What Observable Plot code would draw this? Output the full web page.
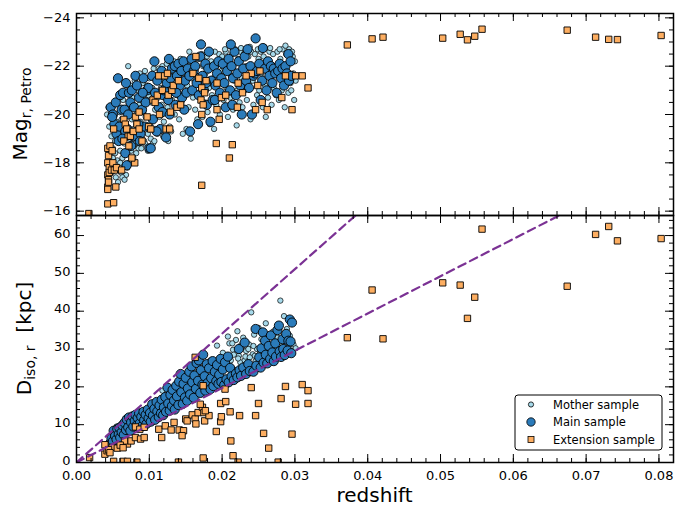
<!DOCTYPE html>
<html>
<head>
<meta charset="utf-8">
<script src="https://cdn.jsdelivr.net/npm/d3@7"></script>
<script src="https://cdn.jsdelivr.net/npm/@observablehq/plot@0.6"></script>
<style>
  html, body { margin: 0; padding: 0; background: #fff; }
  #chart { position: relative; width: 676px; height: 508px; }
  #chart svg { display: block; overflow: visible; }
</style>
</head>
<body>
<div id="chart"></div>
<script>
// ---- tick values ----
const xMajor = [0, 0.01, 0.02, 0.03, 0.04, 0.05, 0.06, 0.07, 0.08];
const xMinor = d3.range(0, 0.0821, 0.002);
const magMajor = [-24, -22, -20, -18, -16];
const magMinor = d3.range(-24, -15.75, 0.5);
const sizeMajor = [0, 10, 20, 30, 40, 50, 60];
const sizeMinor = d3.range(0, 65, 2);

// ---- guide lines of constant angular size: D = slope * z ----
const guideSlopes = [1704, 985];

// ---- absolute magnitude vs redshift: [z, Mag_r] ----
const motherMag = [
  [0.0042,-20.0],[0.0044,-20.3],[0.0045,-19.5],[0.0046,-18.3],[0.0047,-17.9],[0.0048,-19.1],[0.0050,-18.6],[0.0051,-20.4],
  [0.0052,-17.8],[0.0053,-18.9],[0.0054,-17.4],[0.0055,-19.7],[0.0056,-18.1],[0.0057,-17.2],[0.0058,-19.3],[0.0059,-20.1],
  [0.0060,-18.5],[0.0061,-17.6],[0.0062,-19.8],[0.0063,-18.2],[0.0064,-20.6],[0.0065,-17.9],[0.0066,-18.8],[0.0067,-19.6],
  [0.0068,-17.5],[0.0069,-18.4],[0.0070,-20.3],[0.0071,-22.0],[0.0072,-18.0],[0.0073,-19.0],[0.0074,-21.2],[0.0075,-18.5],
  [0.0076,-19.8],[0.0077,-20.7],[0.0078,-18.2],[0.0079,-19.4],[0.0080,-21.4],[0.0081,-18.8],[0.0082,-20.0],[0.0083,-19.3],
  [0.0084,-21.0],[0.0085,-18.6],[0.0086,-20.4],[0.0087,-21.7],[0.0088,-19.7],[0.0089,-20.9],[0.0090,-19.0],[0.0091,-21.3],
  [0.0092,-20.1],[0.0093,-18.9],[0.0094,-21.8],[0.0095,-19.9],[0.0096,-20.6],[0.0097,-21.2],[0.0098,-19.2],[0.0099,-20.8],
  [0.0100,-21.5],[0.0101,-19.6],[0.0103,-20.5],[0.0104,-21.1],[0.0105,-18.8],[0.0106,-21.9],[0.0108,-20.2],[0.0109,-19.4],
  [0.0110,-21.6],[0.0112,-20.7],[0.0113,-21.9],[0.0114,-19.9],[0.0116,-21.1],[0.0117,-20.4],[0.0118,-22.0],[0.0120,-19.7],
  [0.0121,-21.4],[0.0123,-20.9],[0.0124,-22.1],[0.0125,-20.3],[0.0127,-21.2],[0.0128,-19.5],[0.0129,-21.7],[0.0131,-20.6],
  [0.0132,-21.4],[0.0134,-22.2],[0.0135,-20.0],[0.0137,-21.9],[0.0138,-20.8],[0.0140,-21.5],[0.0141,-19.8],[0.0143,-22.3],
  [0.0144,-20.5],[0.0146,-21.7],[0.0148,-20.9],[0.0149,-22.0],[0.0151,-19.4],[0.0152,-21.2],[0.0154,-20.3],[0.0155,-22.2],
  [0.0157,-19.0],[0.0158,-21.5],[0.0160,-20.7],[0.0162,-22.1],[0.0163,-20.2],[0.0165,-21.6],[0.0166,-19.8],[0.0168,-22.3],
  [0.0169,-20.9],[0.0171,-21.3],[0.0173,-19.9],[0.0174,-22.0],[0.0176,-20.5],[0.0177,-21.7],[0.0179,-22.4],[0.0180,-20.1],
  [0.0182,-21.1],[0.0183,-19.6],[0.0185,-22.2],[0.0186,-20.8],[0.0188,-21.5],[0.0189,-19.4],[0.0191,-22.0],[0.0192,-20.4],
  [0.0194,-21.3],[0.0196,-22.5],[0.0197,-20.0],[0.0199,-21.8],[0.0200,-22.4],[0.0202,-20.6],[0.0203,-21.9],[0.0205,-22.6],
  [0.0206,-21.1],[0.0208,-19.9],[0.0209,-22.2],[0.0211,-20.7],[0.0212,-21.6],[0.0214,-22.5],[0.0215,-20.2],[0.0217,-21.4],
  [0.0218,-22.7],[0.0220,-19.55],[0.0221,-21.0],[0.0222,-22.3],[0.0224,-20.5],[0.0225,-22.6],[0.0227,-21.5],[0.0228,-20.3],
  [0.0230,-22.5],[0.0231,-21.0],[0.0233,-22.0],[0.0234,-20.6],[0.0236,-22.4],[0.0237,-21.3],[0.0239,-19.8],[0.0240,-22.6],
  [0.0242,-21.4],[0.0243,-20.4],[0.0245,-22.5],[0.0247,-21.9],[0.0248,-20.8],[0.0250,-22.3],[0.0251,-21.0],[0.0253,-22.6],
  [0.0254,-21.7],[0.0256,-20.3],[0.0257,-22.4],[0.0259,-21.2],[0.0260,-19.9],[0.0262,-22.2],[0.0263,-20.7],[0.0265,-22.6],
  [0.0267,-21.4],[0.0268,-20.4],[0.0270,-22.5],[0.0271,-21.1],[0.0273,-22.0],[0.0274,-20.8],[0.0276,-22.6],[0.0277,-21.6],
  [0.0278,-20.6],[0.0280,-22.3],[0.0282,-21.0],[0.0283,-22.7],[0.0285,-21.5],[0.0286,-20.3],[0.0288,-22.5],[0.0289,-21.8],
  [0.0291,-20.9],[0.0292,-22.7],[0.0294,-21.3],[0.0295,-21.0],[0.0297,-22.4],[0.0298,-21.7],[0.0299,-20.6],
  [0.0048,-17.6],[0.0050,-18.2],[0.0053,-18.4],[0.0058,-17.7],[0.0060,-18.0],[0.0063,-17.4],[0.0066,-17.3],[0.0070,-17.8],
  [0.0072,-18.6],[0.0076,-18.0],[0.0079,-18.7],[0.0082,-18.4],[0.0085,-19.0],[0.0089,-18.6],[0.0094,-18.8],[0.0098,-18.5],
  [0.0102,-19.0],[0.0107,-18.9],[0.0111,-19.2],[0.0119,-19.1],[0.0126,-18.9],[0.0146,-19.2],[0.0130,-19.3],
  [0.0204,-22.7],[0.0213,-22.8],[0.0226,-22.75],[0.0238,-22.8],[0.0249,-22.7],[0.0258,-22.8],[0.0266,-22.75],[0.0279,-22.7],
  [0.0287,-22.85],[0.0296,-22.6],[0.0300,-22.2],[0.0301,-21.4],[0.0190,-22.6],[0.0172,-22.5],[0.0155,-22.6]
];

const mainMag = [
  [0.0047,-20.3],[0.0050,-20.0],[0.0052,-19.6],[0.0054,-20.5],[0.0057,-21.5],[0.0055,-19.2],[0.0058,-18.9],[0.0049,-19.9],
  [0.0060,-20.8],[0.0059,-19.5],[0.0062,-20.2],[0.0064,-20.9],[0.0066,-20.2],[0.0068,-21.3],[0.0072,-20.9],[0.0070,-19.4],
  [0.0067,-19.3],[0.0067,-18.4],[0.0069,-17.9],[0.0074,-20.5],[0.0076,-21.0],[0.0078,-19.1],[0.0063,-19.0],[0.0071,-20.0],
  [0.0075,-18.7],[0.0079,-20.3],[0.0081,-21.6],[0.0083,-21.2],[0.0086,-20.7],[0.0088,-19.2],[0.0090,-20.2],[0.0092,-21.5],
  [0.0094,-19.5],[0.0095,-20.5],[0.0097,-21.0],[0.0099,-21.1],[0.0085,-19.6],[0.0100,-18.6],[0.0091,-20.9],[0.0087,-18.9],
  [0.0102,-18.6],[0.0104,-21.6],[0.0107,-22.2],[0.0108,-20.9],[0.0111,-21.4],[0.0113,-20.3],[0.0115,-19.4],[0.0117,-21.8],
  [0.0119,-20.8],[0.0120,-21.0],[0.0123,-19.05],[0.0124,-21.3],[0.0126,-20.6],[0.0127,-22.3],[0.0129,-21.5],[0.0105,-19.8],
  [0.0110,-19.3],[0.0118,-20.1],[0.0128,-20.0],[0.0131,-21.9],[0.0133,-21.0],[0.0135,-22.0],[0.0136,-20.4],[0.0138,-21.6],
  [0.0140,-22.1],[0.0142,-21.2],[0.0144,-21.8],[0.0145,-20.7],[0.0147,-22.2],[0.0149,-21.4],[0.0151,-20.9],[0.0153,-21.9],
  [0.0155,-21.6],[0.0156,-19.3],[0.0158,-22.3],[0.0159,-21.0],[0.0137,-20.9],[0.0148,-20.2],[0.0161,-21.8],[0.0163,-22.0],
  [0.0165,-21.3],[0.0167,-19.6],[0.0168,-20.8],[0.0170,-22.4],[0.0171,-22.9],[0.0173,-21.6],[0.0175,-21.0],[0.0177,-22.1],
  [0.0179,-20.4],[0.0181,-21.9],[0.0182,-22.6],[0.0184,-19.7],[0.0185,-21.4],[0.0187,-20.6],[0.0189,-22.0],[0.0191,-21.2],
  [0.0193,-21.7],[0.0195,-22.2],[0.0197,-20.9],[0.0199,-21.5],[0.0178,-21.3],[0.0190,-20.6],[0.0201,-22.1],[0.0203,-21.3],
  [0.0205,-20.3],[0.0207,-21.8],[0.0209,-22.3],[0.0211,-21.0],[0.0213,-22.0],[0.0215,-21.5],[0.0217,-22.6],[0.0219,-20.8],
  [0.0221,-21.7],[0.0223,-22.2],[0.0225,-21.2],[0.0227,-20.0],[0.0229,-21.9],[0.0231,-22.4],[0.0233,-21.4],[0.0235,-22.7],
  [0.0237,-21.1],[0.0239,-22.0],[0.0241,-20.0],[0.0243,-21.6],[0.0245,-21.7],[0.0246,-23.15],[0.0248,-21.8],[0.0212,-22.9],
  [0.0214,-20.4],[0.0251,-22.1],[0.0253,-20.6],[0.0255,-21.4],[0.0256,-22.75],[0.0259,-21.9],[0.0261,-21.0],[0.0263,-22.2],
  [0.0265,-21.6],[0.0267,-22.0],[0.0269,-21.3],[0.0271,-21.9],[0.0273,-21.7],[0.0275,-20.9],[0.0277,-21.8],[0.0279,-22.1],
  [0.0281,-21.5],[0.0283,-21.9],[0.0285,-21.2],[0.0287,-22.0],[0.0289,-21.7],[0.0291,-22.5],[0.0292,-21.4],[0.0294,-22.2],
  [0.0295,-21.6]
];

const extensionMag = [
  [0.0017,-15.9],
  [0.0043,-18.6],[0.0044,-18.3],[0.0043,-18.0],[0.0045,-17.8],[0.0043,-17.5],[0.0044,-17.3],[0.0043,-17.0],[0.0043,-16.9],
  [0.0043,-16.3],[0.0046,-18.7],[0.0045,-17.6],[0.0044,-17.2],[0.0051,-16.35],[0.0054,-17.0],[0.0048,-17.7],[0.0050,-18.0],
  [0.0052,-17.7],[0.0055,-17.8],[0.0049,-18.5],[0.0051,-19.4],[0.0062,-17.7],[0.0065,-19.8],[0.0067,-19.6],[0.0069,-19.4],
  [0.0071,-19.1],[0.0074,-19.1],[0.0065,-18.9],[0.0072,-18.7],[0.0080,-18.0],[0.0076,-18.2],[0.0078,-19.3],[0.0081,-19.9],
  [0.0083,-19.6],[0.0086,-19.4],[0.0090,-18.9],[0.0086,-20.1],[0.0105,-20.6],[0.0097,-19.9],[0.0099,-19.5],[0.0102,-19.4],
  [0.0108,-20.5],[0.0111,-20.8],[0.0114,-20.0],[0.0113,-21.6],[0.0118,-21.0],[0.0123,-19.4],[0.0128,-19.4],[0.0129,-20.1],
  [0.0126,-20.8],[0.0131,-21.0],[0.0133,-21.2],[0.0138,-20.3],[0.0121,-21.6],[0.0125,-21.7],[0.0143,-20.4],[0.0140,-21.4],
  [0.0164,-22.4],[0.0160,-21.7],[0.0168,-21.5],[0.0172,-21.1],[0.0171,-20.6],[0.0174,-20.4],[0.0172,-20.0],[0.0172,-17.07],
  [0.0178,-21.4],[0.0176,-20.9],[0.0192,-18.8],[0.0193,-20.2],[0.0196,-19.8],[0.0193,-21.3],[0.0199,-20.7],[0.0214,-18.75],
  [0.0210,-18.2],[0.0221,-20.3],[0.0222,-21.3],[0.0240,-21.7],[0.0246,-20.2],[0.0228,-20.9],[0.0205,-20.8],[0.0233,-21.6],
  [0.0252,-21.8],[0.0249,-21.2],[0.0255,-20.5],[0.0262,-20.2],[0.0282,-20.7],[0.0287,-21.6],[0.0296,-20.2],[0.0301,-21.6],
  [0.0310,-21.6],[0.0318,-21.1],
  [0.0372,-22.88],[0.0406,-23.13],[0.0421,-23.20],[0.0503,-23.16],[0.0527,-23.32],[0.0537,-23.09],[0.0547,-23.24],
  [0.0557,-23.53],[0.0674,-23.49],[0.0713,-23.20],[0.0731,-23.11],[0.0743,-23.10],[0.0803,-23.27]
];

// ---- isophotal diameter vs redshift: [z, D_iso,r in kpc] ----
const motherSize = [
  [0.0045,5.5],[0.0048,7.2],[0.0052,6.8],[0.0055,9.5],[0.0060,8.0],[0.0064,9.0],[0.0068,10.2],[0.0073,10.8],[0.0079,12.8],
  [0.0085,11.5],[0.0091,12.5],[0.0097,13.2],[0.0103,14.5],[0.0110,15.0],[0.0118,19.0],[0.0124,16.5],[0.0130,18.0],
  [0.0136,19.5],[0.0145,21.0],[0.0152,20.5],[0.0160,22.5],[0.0166,24.0],[0.0172,23.0],[0.0178,25.5],[0.0184,27.0],
  [0.0193,30.9],[0.0197,27.0],[0.0201,29.0],[0.0204,25.5],[0.0208,33.3],[0.0210,31.5],[0.0212,27.0],[0.0215,29.8],
  [0.0217,24.5],[0.0219,32.4],[0.0221,34.7],[0.0223,28.2],[0.0225,26.5],[0.0227,30.4],[0.0229,33.0],[0.0231,27.0],
  [0.0233,29.5],[0.0235,25.8],[0.0237,31.2],[0.0240,39.7],[0.0242,28.6],[0.0244,33.8],[0.0246,26.8],[0.0248,30.0],
  [0.0250,35.6],[0.0252,28.9],[0.0254,32.6],[0.0256,27.2],[0.0258,30.5],[0.0260,36.8],[0.0262,29.2],[0.0264,33.2],
  [0.0266,27.6],[0.0268,31.0],[0.0270,34.6],[0.0272,28.6],[0.0274,30.4],[0.0276,33.0],[0.0278,29.5],[0.0280,42.8],
  [0.0282,31.6],[0.0285,38.7],[0.0287,34.0],[0.0289,35.3],[0.0291,30.8],[0.0293,33.5],[0.0295,29.4],[0.0298,31.2],
  [0.0301,30.2],
  [0.0216,28.5],[0.0222,27.5],[0.0226,31.0],[0.0232,28.0],[0.0236,30.0],[0.0238,27.8],[0.0243,30.8],[0.0245,28.2],[0.0214,31.5]
];

const mainSize = [
  [0.0046,5.0],[0.0048,6.3],[0.0050,5.6],[0.0051,8.4],[0.0053,7.0],[0.0055,6.1],[0.0056,8.8],[0.0058,7.5],[0.0059,9.2],
  [0.0060,6.6],[0.0062,8.0],[0.0063,9.8],[0.0065,7.3],[0.0066,10.5],[0.0068,8.6],[0.0069,11.4],[0.0071,9.3],[0.0072,11.9],
  [0.0074,8.4],[0.0075,10.6],[0.0077,12.2],[0.0078,9.5],[0.0080,11.0],[0.0081,12.6],[0.0083,9.9],[0.0084,11.8],[0.0086,13.0],
  [0.0087,10.4],[0.0089,12.1],[0.0090,9.6],[0.0092,13.4],[0.0093,11.2],[0.0095,12.6],[0.0096,10.2],[0.0098,14.0],[0.0099,11.7],
  [0.0101,13.1],[0.0102,10.8],[0.0104,15.4],[0.0105,12.4],[0.0107,14.2],[0.0108,11.3],[0.0110,16.0],[0.0111,13.5],[0.0113,12.0],
  [0.0114,15.1],[0.0116,13.0],[0.0117,16.6],[0.0119,12.5],[0.0120,14.6],[0.0122,17.3],[0.0123,13.4],[0.0125,19.8],[0.0126,15.6],
  [0.0128,13.7],[0.0129,17.9],[0.0131,14.9],[0.0132,19.2],[0.0134,16.4],[0.0135,14.0],[0.0137,20.3],[0.0138,17.5],[0.0140,15.2],
  [0.0141,21.4],[0.0143,23.4],[0.0144,18.6],[0.0146,15.5],[0.0147,20.8],[0.0149,17.2],[0.0150,22.4],[0.0152,16.3],[0.0153,19.6],
  [0.0155,24.0],[0.0156,18.0],[0.0158,25.4],[0.0159,21.2],[0.0161,17.1],[0.0162,23.0],[0.0164,19.5],[0.0165,26.3],[0.0167,21.6],
  [0.0168,27.0],[0.0170,18.4],[0.0171,24.4],[0.0173,20.6],[0.0174,28.5],[0.0176,22.8],[0.0177,19.0],[0.0179,26.0],[0.0180,21.0],
  [0.0182,24.9],[0.0184,19.4],[0.0185,22.3],[0.0187,26.8],[0.0188,20.2],[0.0190,24.0],[0.0192,21.5],[0.0193,25.8],[0.0195,20.8],
  [0.0196,23.2],[0.0198,27.4],[0.0199,21.3],[0.0201,24.6],[0.0203,20.5],[0.0204,26.5],[0.0206,22.0],[0.0208,28.0],[0.0209,21.2],
  [0.0211,25.0],[0.0213,22.8],[0.0216,21.8],[0.0219,23.5],[0.0221,22.5],[0.0223,30.0],[0.0224,24.4],
  [0.0226,22.9],[0.0229,25.1],[0.0231,31.7],[0.0233,23.4],[0.0236,26.0],[0.0238,24.2],
  [0.0243,24.0],[0.0246,35.3],[0.0247,25.6],[0.0251,27.8],[0.0253,25.1],[0.0254,30.2],
  [0.0256,34.4],[0.0257,26.4],[0.0259,32.2],[0.0260,28.5],[0.0262,26.2],[0.0264,30.8],[0.0266,27.4],[0.0267,33.6],[0.0269,29.1],
  [0.0271,26.8],[0.0273,31.5],[0.0274,28.0],[0.0276,35.0],[0.0278,36.2],[0.0279,29.4],[0.0281,27.9],[0.0283,32.6],[0.0284,30.0],
  [0.0286,28.4],[0.0288,34.0],[0.0290,29.6],[0.0291,32.2],[0.0293,37.8],[0.0295,28.9],[0.0296,37.0],[0.0294,32.0]
];

const extensionSize = [
  [0.0018,1.3],[0.0039,4.7],[0.0039,2.2],[0.0042,3.1],[0.0049,4.0],[0.0056,3.8],[0.0051,0.3],[0.0064,0.3],[0.0070,0.3],
  [0.0083,0.1],[0.0070,4.9],[0.0066,5.7],[0.0075,5.7],[0.0081,6.6],[0.0088,6.2],[0.0093,6.6],[0.0081,9.4],[0.0087,8.8],
  [0.0093,9.3],[0.0113,8.8],[0.0117,6.6],[0.0122,9.7],[0.0130,8.6],[0.0134,10.6],[0.0141,8.6],[0.0147,8.4],[0.0145,7.1],
  [0.0150,11.5],[0.0152,11.0],[0.0159,12.6],[0.0163,11.5],[0.0164,10.2],[0.0167,13.2],[0.0173,14.6],[0.0175,13.2],
  [0.0176,11.0],[0.0182,12.4],[0.0163,27.8],[0.0174,20.3],[0.0170,15.4],[0.0177,13.7],[0.0192,8.2],[0.0198,10.8],
  [0.0199,12.1],[0.0198,15.6],[0.0204,19.4],[0.0205,16.1],[0.0211,13.4],[0.0212,5.7],[0.0215,1.8],[0.0222,0.1],
  [0.0224,12.4],[0.0240,19.8],[0.0246,12.4],[0.0250,15.6],[0.0257,7.7],[0.0264,3.8],[0.0277,0.1],[0.0281,16.9],
  [0.0287,20.1],[0.0296,7.5],[0.0301,15.4],[0.0310,20.6],[0.0318,19.0],[0.0318,15.6],[0.0140,0.1],[0.0174,1.2],
  [0.0044,3.4],[0.0046,2.6],[0.0060,4.6],[0.0064,3.9],
  [0.0372,33.0],[0.0406,45.6],[0.0421,32.7],[0.0503,47.5],[0.0527,46.9],[0.0537,38.1],[0.0547,43.7],[0.0557,61.7],
  [0.0674,46.6],[0.0713,60.3],[0.0731,62.4],[0.0743,58.6],[0.0803,59.2]
];

// ---- styling ----
const FONT = "DejaVu Sans";
const colMother = "#a6d9ea", colMain = "#2b7bba", colExt = "#fdae61", colGuide = "#7b3294";
const W = 676, mL = 76, mR = 3;
const xDomain = [0, 0.0820];
const innerW = W - mL - mR;

// inward ticks on all four sides of a panel
function frameTicks(innerH, yMajor, yMinor) {
  const maj = 8, min = 4, s = {stroke: "black", strokeWidth: 1};
  return [
    Plot.tickX(xMajor, {x: d => d, insetTop: innerH - maj, ...s}),
    Plot.tickX(xMajor, {x: d => d, insetBottom: innerH - maj, ...s}),
    Plot.tickX(xMinor, {x: d => d, insetTop: innerH - min, ...s}),
    Plot.tickX(xMinor, {x: d => d, insetBottom: innerH - min, ...s}),
    Plot.tickY(yMajor, {y: d => d, insetRight: innerW - maj, ...s}),
    Plot.tickY(yMajor, {y: d => d, insetLeft: innerW - maj, ...s}),
    Plot.tickY(yMinor, {y: d => d, insetRight: innerW - min, ...s}),
    Plot.tickY(yMinor, {y: d => d, insetLeft: innerW - min, ...s})
  ];
}

function sampleDots(mother, main, ext) {
  return [
    Plot.dot(mother, {x: d => d[0], y: d => d[1], r: 2.7, fill: colMother, stroke: "black", strokeWidth: 0.7, clip: true}),
    Plot.dot(main, {x: d => d[0], y: d => d[1], r: 4.6, fill: colMain, stroke: "black", strokeWidth: 0.9, clip: true}),
    Plot.dot(ext, {x: d => d[0], y: d => d[1], r: 3.6, symbol: "square", fill: colExt, stroke: "black", strokeWidth: 0.9, clip: true})
  ];
}

const baseStyle = {fontFamily: FONT, fontSize: "13px", background: "transparent", color: "black", overflow: "visible"};

// ---- upper panel: magnitude ----
const topH = 215, topMT = 13;
const magPlot = Plot.plot({
  width: W, height: topH, marginTop: topMT, marginBottom: 0, marginLeft: mL, marginRight: mR,
  style: baseStyle,
  x: {domain: xDomain, axis: null},
  y: {domain: [-15.82, -24.18]},
  marks: [
    ...sampleDots(motherMag, mainMag, extensionMag),
    ...frameTicks(topH - topMT, magMajor, magMinor),
    Plot.axisY({ticks: magMajor, tickSize: 0, tickPadding: 6, tickFormat: d3.format("d"), label: null}),
    Plot.frame({stroke: "black", strokeWidth: 1.5})
  ]
});

// ---- lower panel: diameter ----
const botH = 293, botMB = 46;
const sizePlot = Plot.plot({
  width: W, height: botH, marginTop: 0, marginBottom: botMB, marginLeft: mL, marginRight: mR,
  style: baseStyle,
  x: {domain: xDomain},
  y: {domain: [0, 65.3]},
  marks: [
    ...sampleDots(motherSize, mainSize, extensionSize),
    ...guideSlopes.map(k => Plot.line(xDomain, {x: d => d, y: d => k * d, stroke: colGuide, strokeWidth: 2.2, strokeDasharray: "8,5", clip: true})),
    ...frameTicks(botH - botMB, sizeMajor, sizeMinor),
    Plot.axisX({ticks: xMajor, tickSize: 0, tickPadding: 8, tickFormat: d3.format(".2f"), label: null}),
    Plot.axisY({ticks: sizeMajor, tickSize: 0, tickPadding: 6, tickFormat: d3.format("d"), label: null, dy: -2}),
    Plot.frame({stroke: "black", strokeWidth: 1.5})
  ]
});

const chart = document.getElementById("chart");
chart.append(magPlot, sizePlot);

// rotated axis titles with subscripts
function yTitle(svg, x, y, parts) {
  const t = d3.select(svg).append("text")
    .attr("transform", `translate(${x},${y}) rotate(-90)`)
    .attr("text-anchor", "middle")
    .attr("font-family", FONT)
    .attr("fill", "black")
    .style("white-space", "pre");
  for (const [s, size, dy] of parts) t.append("tspan").attr("font-size", size).attr("dy", dy).text(s);
}
yTitle(magPlot, 27, (topMT + topH) / 2, [["Mag", 20, 0], ["r, Petro", 14, 4]]);
yTitle(sizePlot, 31, (botH - botMB) / 2, [["D", 20, 0], ["iso, r", 14, 4], ["  [kpc]", 20, -4]]);

d3.select(sizePlot).append("text")
  .attr("x", mL + innerW / 2).attr("y", botH - 6)
  .attr("text-anchor", "middle").attr("font-family", FONT).attr("font-size", 20)
  .attr("fill", "black").text("redshift");

// legend box, lower right of the diameter panel
const lg = d3.select(sizePlot).append("g").attr("transform", "translate(515,180)");
lg.append("rect").attr("width", 147).attr("height", 55).attr("rx", 3)
  .attr("fill", "white").attr("stroke", "black").attr("stroke-width", 1);
const entries = [
  {label: "Mother sample", kind: "circle", r: 2.6, fill: colMother},
  {label: "Main sample", kind: "circle", r: 4.2, fill: colMain},
  {label: "Extension sample", kind: "square", s: 6, fill: colExt}
];
entries.forEach((e, i) => {
  const row = lg.append("g").attr("transform", `translate(16,${9.5 + i * 17.5})`);
  if (e.kind === "circle") {
    row.append("circle").attr("r", e.r).attr("fill", e.fill).attr("stroke", "black").attr("stroke-width", 0.8);
  } else {
    row.append("rect").attr("x", -e.s / 2).attr("y", -e.s / 2).attr("width", e.s).attr("height", e.s)
      .attr("fill", e.fill).attr("stroke", "black").attr("stroke-width", 0.8);
  }
  row.append("text").attr("x", 22).attr("dy", "0.35em").attr("text-anchor", "start")
    .attr("font-family", FONT).attr("font-size", 11.5)
    .attr("fill", "black").text(e.label);
});
</script>
</body>
</html>
